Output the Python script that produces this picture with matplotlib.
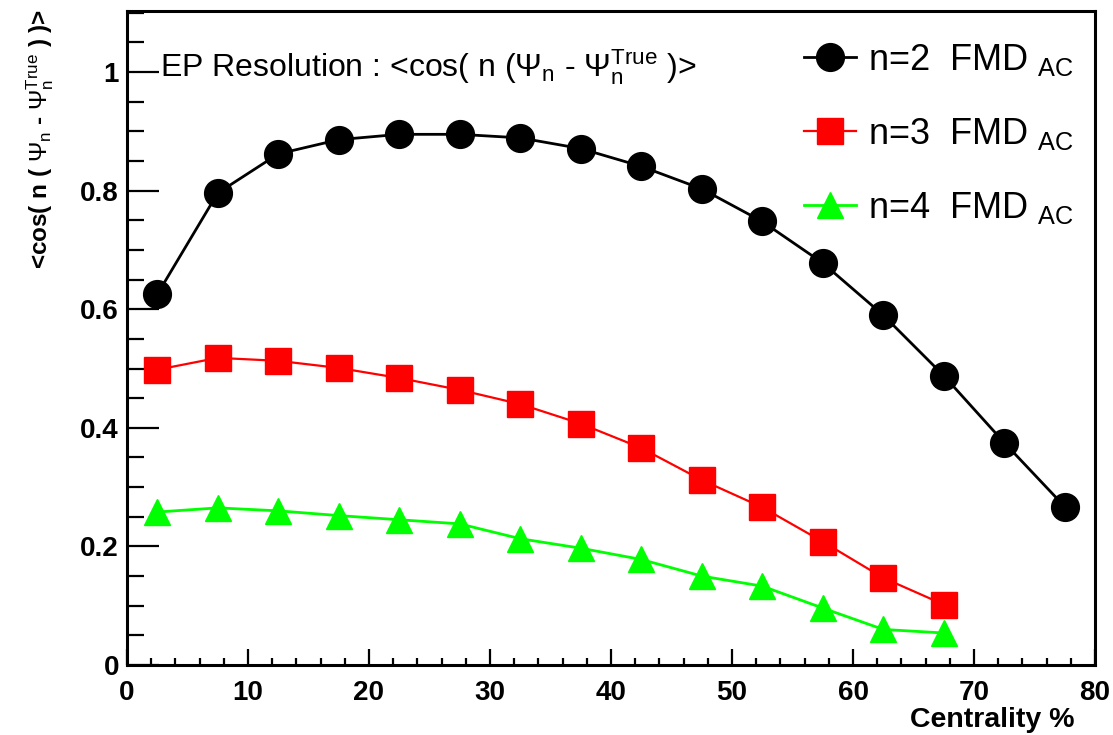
import numpy as np
import matplotlib.pyplot as plt
from matplotlib.ticker import MultipleLocator, FuncFormatter

plt.rcParams['font.family'] = ['Liberation Sans', 'DejaVu Sans']
plt.rcParams['mathtext.fontset'] = 'custom'
plt.rcParams['mathtext.rm'] = 'Liberation Sans'
plt.rcParams['mathtext.it'] = 'Liberation Sans:italic'
plt.rcParams['mathtext.bf'] = 'Liberation Sans:bold'

# --------------------------------
# EP resolution vs centrality
# --------------------------------
cent_n2 = [2.5, 7.5, 12.5, 17.5, 22.5, 27.5, 32.5, 37.5,
           42.5, 47.5, 52.5, 57.5, 62.5, 67.5, 72.5, 77.5]
res_n2 = [0.625, 0.796, 0.862, 0.886, 0.895, 0.895, 0.889, 0.871,
          0.841, 0.803, 0.748, 0.678, 0.590, 0.488, 0.375, 0.267]

cent_n34 = [2.5, 7.5, 12.5, 17.5, 22.5, 27.5, 32.5, 37.5,
            42.5, 47.5, 52.5, 57.5, 62.5, 67.5]
res_n3 = [0.498, 0.518, 0.513, 0.501, 0.484, 0.464, 0.440, 0.407,
          0.366, 0.312, 0.266, 0.208, 0.147, 0.102]
res_n4 = [0.258, 0.265, 0.260, 0.252, 0.245, 0.238, 0.213, 0.197,
          0.178, 0.150, 0.133, 0.096, 0.060, 0.054]

labels = [r"n=2  FMD $_{\mathrm{AC}}$",
          r"n=3  FMD $_{\mathrm{AC}}$",
          r"n=4  FMD $_{\mathrm{AC}}$"]

W, H = 1113, 735
fig = plt.figure(figsize=(W / 100, H / 100), dpi=100)
ax = fig.add_axes([127 / W, 1 - 665 / H, (1095 - 127) / W, (665 - 11) / H])

ax.plot(cent_n2, res_n2, color='black', lw=2, marker='o', ms=20, label=labels[0])
ax.plot(cent_n34, res_n3, color='red', lw=1.6, marker='s', ms=19, label=labels[1])
ax.plot(cent_n34, res_n4, color='#00ff00', lw=2, marker='^', ms=19, label=labels[2])

ax.set_xlim(0, 80)
ax.set_ylim(0, 1.103)

# ROOT-like axes: ticks inside, only left/bottom
for s in ax.spines.values():
    s.set_linewidth(2.2)
ax.xaxis.set_major_locator(MultipleLocator(10))
ax.xaxis.set_minor_locator(MultipleLocator(2))
ax.yaxis.set_major_locator(MultipleLocator(0.2))
ax.yaxis.set_minor_locator(MultipleLocator(0.05))
ax.yaxis.set_major_formatter(FuncFormatter(lambda v, p: f"{v:g}"))
ax.tick_params(axis='both', which='both', direction='in', top=False, right=False,
               width=1.6, labelsize=20)
ax.tick_params(axis='x', which='major', length=11.5, pad=11)
ax.tick_params(axis='x', which='minor', length=5)
ax.tick_params(axis='y', which='major', length=23, pad=5.8)
ax.tick_params(axis='y', which='minor', length=12)
for lab in ax.get_xticklabels() + ax.get_yticklabels():
    lab.set_fontweight('bold')

ax.text(2.7, 0.992,
        r"EP Resolution : <cos( n ($\Psi_{\mathrm{n}}$ - $\Psi_{\mathrm{n}}^{\mathrm{True}}$ )>",
        fontsize=23, ha='left', va='baseline')

fig.text(1075 / W, 1 - 727 / H, "Centrality %", fontsize=20.5, fontweight='bold',
         ha='right', va='baseline')
fig.text(40 / W, 1 - 9 / H,
         r"<cos( n ( $\Psi_{\mathrm{n}}$ - $\Psi_{\mathrm{n}}^{\mathrm{True}}$ ) )>",
         fontsize=17.5, fontweight='bold', rotation=90, ha='center', va='top')

ax.legend(loc='upper left', bbox_to_anchor=(804 / W, 1 - 42 / H),
          bbox_transform=fig.transFigure, frameon=False, fontsize=26,
          handlelength=1.45, handletextpad=0.33, labelspacing=1.05,
          borderpad=0, borderaxespad=0)

plt.savefig("out.png", dpi=100)
